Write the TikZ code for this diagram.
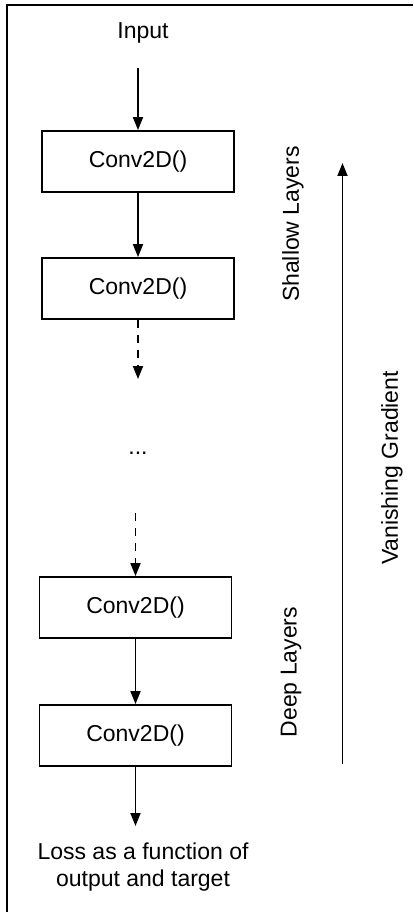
\documentclass[tikz,border=0pt]{standalone}
\usepackage{fontspec}
\setmainfont{Liberation Sans}
\usetikzlibrary{arrows.meta}
\begin{document}
\begin{tikzpicture}[x=1pt,y=-1pt,
  txt/.style={inner sep=0pt,font=\fontsize{23}{27}\selectfont},
  box/.style={txt,draw,line width=1.8pt,minimum width=192pt,minimum height=61pt},
  arr/.style={line width=1.8pt,-{Triangle[length=13pt,width=10pt]}},
  darr/.style={arr,dash pattern=on 8pt off 7pt}]
\useasboundingbox (0,0) rectangle (413,912);
\draw[line width=1.8pt] (7,912) -- (7,5) -- (413,5);
\node[txt,anchor=base] (in) at (143,39) {Input};
\node[box] (b1) at (138,161.5) {Conv2D()};
\node[box] (b2) at (138,288.5) {Conv2D()};
\node[txt,anchor=base] (dots) at (138,454) {...};
\node[box] (b3) at (135.5,607.5) {Conv2D()};
\node[box] (b4) at (135.5,735.5) {Conv2D()};
\node[txt,align=center] (loss) at (143,867) {Loss as a function of\\output and target};
\coordinate (a0) at (138,68);
\coordinate (d1) at (138,379);
\coordinate (d2) at (135.5,513);
\coordinate (e4) at (135.5,826);
\draw[arr] (a0) -- (b1.north);
\draw[arr] (b1.south) -- (b2.north);
\draw[darr] (b2.south) -- (d1);
\draw[darr] (d2) -- (b3.north);
\draw[arr] (b3.south) -- (b4.north);
\draw[arr] (b4.south) -- (e4);
\coordinate (vg0) at (342.5,764);
\coordinate (vg1) at (342.5,163);
\draw[arr] (vg0) -- (vg1);
\node[txt,rotate=90] (shallow) at (293,224) {Shallow Layers};
\node[txt,rotate=90] (deep) at (291,672) {Deep Layers};
\node[txt,rotate=90] (vanish) at (392,468) {Vanishing Gradient};
\end{tikzpicture}
\end{document}
